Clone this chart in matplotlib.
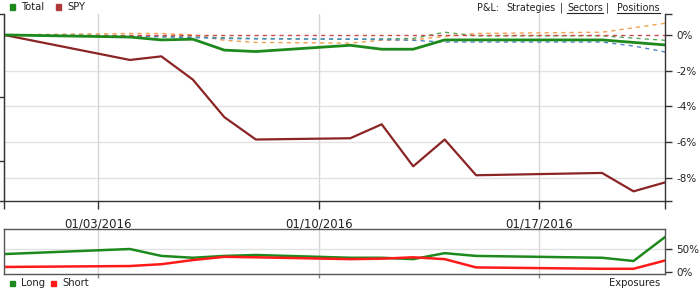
"""P&L chart: strategy total vs SPY, with long/short exposures below."""

import matplotlib
matplotlib.use("Agg")
import matplotlib.pyplot as plt
import matplotlib.dates as mdates
import numpy as np
from matplotlib.lines import Line2D
from matplotlib.patches import Rectangle

dates = np.array(["2015-12-31", "2016-01-04", "2016-01-05", "2016-01-06", "2016-01-07",
                  "2016-01-08", "2016-01-11", "2016-01-12", "2016-01-13", "2016-01-14",
                  "2016-01-15", "2016-01-19", "2016-01-20", "2016-01-21"], dtype="datetime64[D]")

# cumulative P&L, percent
total = [0.0, -0.12, -0.28, -0.24, -0.85, -0.93, -0.58, -0.8, -0.8, -0.28, -0.28, -0.28, -0.42, -0.56]
spy = [0.0, -1.4, -1.2, -2.5, -4.6, -5.85, -5.78, -5.0, -7.35, -5.85, -7.85, -7.72, -8.75, -8.25]
strat_orange = [0.0, 0.08, 0.08, 0.0, -0.3, -0.42, -0.46, -0.3, -0.28, -0.08, 0.08, 0.15, 0.4, 0.65]
strat_green = [0.0, -0.05, -0.1, -0.12, -0.16, -0.2, -0.24, -0.22, -0.2, 0.15, -0.05, -0.05, -0.18, -0.3]
strat_blue = [0.0, -0.05, -0.1, -0.15, -0.2, -0.22, -0.24, -0.26, -0.3, -0.4, -0.4, -0.4, -0.62, -0.95]
strat_red = [0.0] * 14

# exposures, percent
long_exp = [39, 50, 35, 31, 35, 37, 31, 31, 28, 41, 35, 31, 24, 76]
short_exp = [11, 13, 17, 26, 33, 32, 28, 29, 32, 28, 10, 7, 7, 25]

date_ticks = np.array(["2016-01-03", "2016-01-10", "2016-01-17"], dtype="datetime64[D]")
pnl_ticks = [0, -2, -4, -6, -8]
exp_ticks = [0, 50]

W, H = 700, 290
fig = plt.figure(figsize=(W / 100, H / 100), dpi=100)
plt.rcParams["font.family"] = ["DejaVu Sans"]


def box(l, t, r, b):
    return [l / W, 1 - b / H, (r - l) / W, (b - t) / H]


x0, x1 = np.datetime64("2015-12-31"), np.datetime64("2016-01-21")
grid_c = "#e2e2e2"
txt_c = "#222222"

ax = fig.add_axes(box(4, 14, 665, 201))
ax.set_xlim(x0, x1)
ax.set_ylim(-9.29, 1.17)
for v in pnl_ticks[1:]:
    ax.axhline(v, color=grid_c, lw=1, zorder=0)
for d in date_ticks:
    ax.axvline(d, color="#d6d6d6", lw=1, zorder=0)

dash = (0, (3, 3))
ax.plot(dates, strat_orange, color="#f0a050", lw=1, ls=dash)
ax.plot(dates, strat_green, color="#5aa55a", lw=1, ls=dash)
ax.plot(dates, strat_blue, color="#4f86c6", lw=1, ls=dash)
ax.plot(dates, strat_red, color="#d04848", lw=1, ls=dash)
ax.plot(dates, spy, color="#8b2525", lw=1.6)
ax.plot(dates, total, color="#1e8a1e", lw=2)

ax.spines["top"].set_visible(False)
for s in ("left", "right", "bottom"):
    ax.spines[s].set_color("#333333")
    ax.spines[s].set_linewidth(1)
ax.yaxis.tick_right()
ax.set_yticks(pnl_ticks + [-9.29, 1.17])
ax.set_yticklabels([f"{v}%" for v in pnl_ticks] + ["", ""])
ax.tick_params(axis="y", length=5, width=1, color="#333333", labelsize=7.5,
               labelcolor=txt_c, pad=3)
ax.set_xticks(date_ticks)
ax.set_xticklabels([mdates.num2date(mdates.date2num(d)).strftime("%m/%d/%Y") for d in date_ticks])
ax.set_xticks([x0, x1], minor=True)
ax.tick_params(axis="x", which="both", length=6, width=1, color="#333333",
               labelsize=8.5, labelcolor=txt_c, pad=6)

left = ax.secondary_yaxis("left")
left.set_yticks([1.17, -3.5, -7.06, -9.29])
left.set_yticklabels(["", "", "", ""])
left.tick_params(length=4, width=1, color="#333333")
left.spines["left"].set_color("#333333")

bx = fig.add_axes(box(4, 229, 665, 274))
bx.set_xlim(x0, x1)
bx.set_ylim(-4.3, 93.5)
for d in date_ticks:
    bx.axvline(d, color="#d6d6d6", lw=1, zorder=0)
bx.axhline(50, color=grid_c, lw=1, zorder=0)
bx.plot(dates, long_exp, color="#1e8a1e", lw=1.8)
bx.plot(dates, short_exp, color="#ff1a1a", lw=1.8)
for s in bx.spines.values():
    s.set_color("#555555")
    s.set_linewidth(1)
bx.yaxis.tick_right()
bx.set_yticks(exp_ticks)
bx.set_yticklabels([f"{v}%" for v in exp_ticks])
bx.tick_params(axis="y", length=5, width=1, color="#333333", labelsize=7.5,
               labelcolor=txt_c, pad=3)
bx.set_xticks(date_ticks)
bx.set_xticklabels([])
bx.tick_params(axis="x", length=3, width=1, color="#888888")


def legend_item(x, y, color, label):
    fig.patches.append(Rectangle(((x) / W, 1 - (y + 2.5) / H), 5 / W, 5 / H,
                                 color=color, transform=fig.transFigure, figure=fig))
    fig.text((x + 11) / W, 1 - y / H, label, fontsize=7.2, color=txt_c, va="center")


legend_item(10, 7, "#1e8a1e", "Total")
legend_item(56, 7, "#b03a3a", "SPY")
legend_item(10, 283, "#1e8a1e", "Long")
legend_item(51, 283, "#ff1a1a", "Short")
fig.text(660 / W, 1 - 283 / H, "Exposures", fontsize=7.2, color=txt_c, ha="right", va="center")

# P&L links, top right: laid out right to left from x=660 with the reference's gaps
parts = [("P&L:", False, 8), ("Strategies", False, 4), ("|", False, 4),
         ("Sectors", True, 3), ("|", False, 8), ("Positions", True, 0)]
fig.canvas.draw()
r = fig.canvas.get_renderer()
cursor = 660
for label, under, gap_after in reversed(parts):
    cursor -= gap_after
    t = fig.text(cursor / W, 1 - 8 / H, label, fontsize=6.9, color=txt_c, va="center", ha="right")
    bb = t.get_window_extent(r)
    if under:
        fig.lines.append(Line2D([bb.x0 / W, bb.x1 / W], [1 - 13 / H] * 2, color=txt_c, lw=0.8,
                                transform=fig.transFigure, figure=fig))
    cursor = bb.x0

fig.savefig("out.png", dpi=100)
